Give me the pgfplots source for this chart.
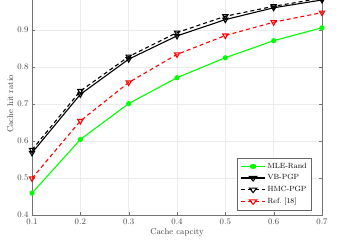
\documentclass[border=0pt]{standalone}
\usepackage{pgfplots}
\pgfplotsset{compat=1.18}
\begin{document}
\begin{tikzpicture}
\begin{axis}[name=ax, scale only axis, width=290pt, height=222pt,
  xmin=0.1, xmax=0.7, ymin=0.4, ymax=1.0,
  xtick={0.1,0.2,0.3,0.4,0.5,0.6,0.7},
  ytick={0.4,0.5,0.6,0.7,0.8,0.9,1.0},
  xticklabels={0.1,0.2,0.3,0.4,0.5,0.6,0.7},
  yticklabels={0.4,0.5,0.6,0.7,0.8,0.9,{}},
  grid=major, grid style={gray!15},
  axis line style={black!55}, tick style={black!55},
  tick align=inside, major tick length=3pt,
  font=\fontsize{8.5}{10}\selectfont,
  xlabel={Cache capcity}, ylabel={Cache hit ratio},
  xlabel style={yshift=3pt}, ylabel style={yshift=-3pt},
  every tick label/.append style={text=black!75},
  label style={text=black!75},
  legend style={at={(0.965,0.022)}, anchor=south east, draw=black!60, font=\fontsize{7.5}{9}\selectfont, row sep=0.8pt, inner sep=3pt},
  legend image post style={xscale=1.4},
  legend cell align=left,
]
\addplot[color=green, line width=1.1pt, mark=*, mark size=2pt] coordinates {
 (0.1,0.459) (0.2,0.604) (0.3,0.701) (0.4,0.771) (0.5,0.825) (0.6,0.871) (0.7,0.906)};
\addlegendentry{MLE-Rand}
\addplot[color=black, line width=1.1pt, mark=triangle, mark options={rotate=180, solid}, mark size=3pt] coordinates {
 (0.1,0.568) (0.2,0.726) (0.3,0.821) (0.4,0.884) (0.5,0.928) (0.6,0.960) (0.7,0.981)};
\addlegendentry{VB-PGP}
\addplot[color=black, line width=1.1pt, dash pattern=on 4pt off 3pt, mark=triangle, mark options={rotate=180, solid}, mark size=3pt] coordinates {
 (0.1,0.576) (0.2,0.735) (0.3,0.828) (0.4,0.893) (0.5,0.937) (0.6,0.964) (0.7,0.986)};
\addlegendentry{HMC-PGP}
\addplot[color=red, line width=1.1pt, dash pattern=on 4pt off 3pt, mark=triangle, mark options={rotate=180, solid}, mark size=3pt] coordinates {
 (0.1,0.499) (0.2,0.654) (0.3,0.758) (0.4,0.834) (0.5,0.885) (0.6,0.921) (0.7,0.947)};
\addlegendentry{Ref.\ [18]}
\coordinate (tc) at (axis cs:0.7,0.981);
\end{axis}
\pgfresetboundingbox
\useasboundingbox ([shift={(-32pt,-31pt)}]ax.south west) rectangle ([shift={(35pt,0pt)}]tc);
\end{tikzpicture}
\end{document}
